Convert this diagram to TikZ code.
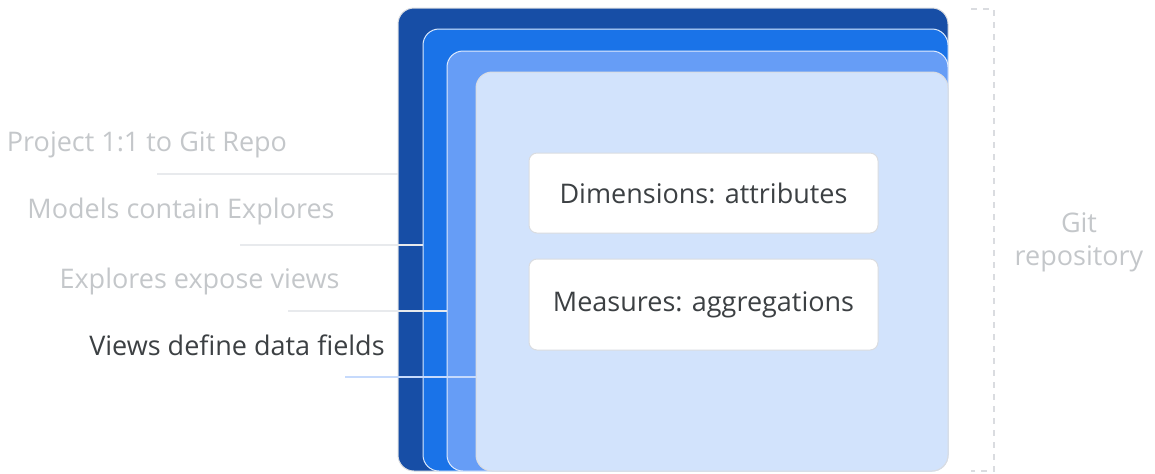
\documentclass[tikz,border=0pt]{standalone}
\usepackage{fontspec}
\setmainfont{Open Sans}
\usetikzlibrary{positioning}

\definecolor{blueA}{HTML}{174EA6}
\definecolor{blueB}{HTML}{1A73E8}
\definecolor{blueC}{HTML}{669DF6}
\definecolor{blueD}{HTML}{D2E3FC}
\definecolor{edgegray}{HTML}{DADCE0}
\definecolor{fadetext}{HTML}{C4C7CA}
\definecolor{darktext}{HTML}{3C4043}
\definecolor{leadgray}{HTML}{E8EAED}
\definecolor{leadblue}{HTML}{C6DAFC}

\tikzset{
  layer/.style={draw=edgegray, line width=0.5pt, rounded corners=8pt, inner sep=0pt},
  fieldbox/.style={draw=edgegray, fill=white, line width=0.5pt, rounded corners=4pt, minimum width=174.5pt, text=darktext},
  tag/.style={anchor=base, text=fadetext},
  leader/.style={draw=leadgray, line width=1pt}
}

\begin{document}
\begin{tikzpicture}[x=0.5pt,y=-0.5pt,font=\fontsize{13.5pt}{16.5pt}\selectfont]
\useasboundingbox (0,0) rectangle (1155,473);

% nested layers
\node (repo) [layer, fill=blueA, minimum width=275pt, minimum height=231.5pt] at (673,239.5) {};
\node (model) [layer, fill=blueB, draw=white!85!blueB, minimum width=262.5pt, minimum height=221pt] at (685.5,250) {};
\node (explore) [layer, fill=blueC, draw=white!80!blueC, minimum width=250.5pt, minimum height=210pt] at (697.5,261) {};
\node (view) [layer, fill=blueD, minimum width=236pt, minimum height=199.5pt] at (712,271.5) {};

% fields of a view
\node (dim) [fieldbox, minimum height=40pt] at (703.5,193) {Dimensions: attributes};
\node (meas) [fieldbox, minimum height=45.5pt, below=12.5pt of dim] {Measures: aggregations};

% labels on the left
\node (lproj) [tag] at (147,151.7) {Project 1:1 to Git Repo};
\node (lmodel) [tag] at (181,218) {Models contain Explores};
\node (lexpl) [tag] at (199.5,288) {Explores expose views};
\node (lview) [tag, text=darktext] at (237,355) {Views define data fields};

\coordinate (s1) at (157,174);
\coordinate (s2) at (240,245);
\coordinate (s3) at (288,311);
\coordinate (s4) at (345,377);
\draw[leader] (s1) -- (s1 -| repo.west);
\draw[leader] (s2) -- (s2 -| model.west);
\draw[leader] (s3) -- (s3 -| explore.west);
\draw[leader, draw=leadblue] (s4) -- (s4 -| view.west);

% repository bracket
\coordinate (bt) at (971,9);
\coordinate (bb) at (971,471);
\draw[edgegray, line width=0.6pt, dashed] (bt) -- ++(23,0) |- (bb);
\node (git) [text=fadetext, align=center] at (1079,242) {Git\\repository};
\end{tikzpicture}
\end{document}
